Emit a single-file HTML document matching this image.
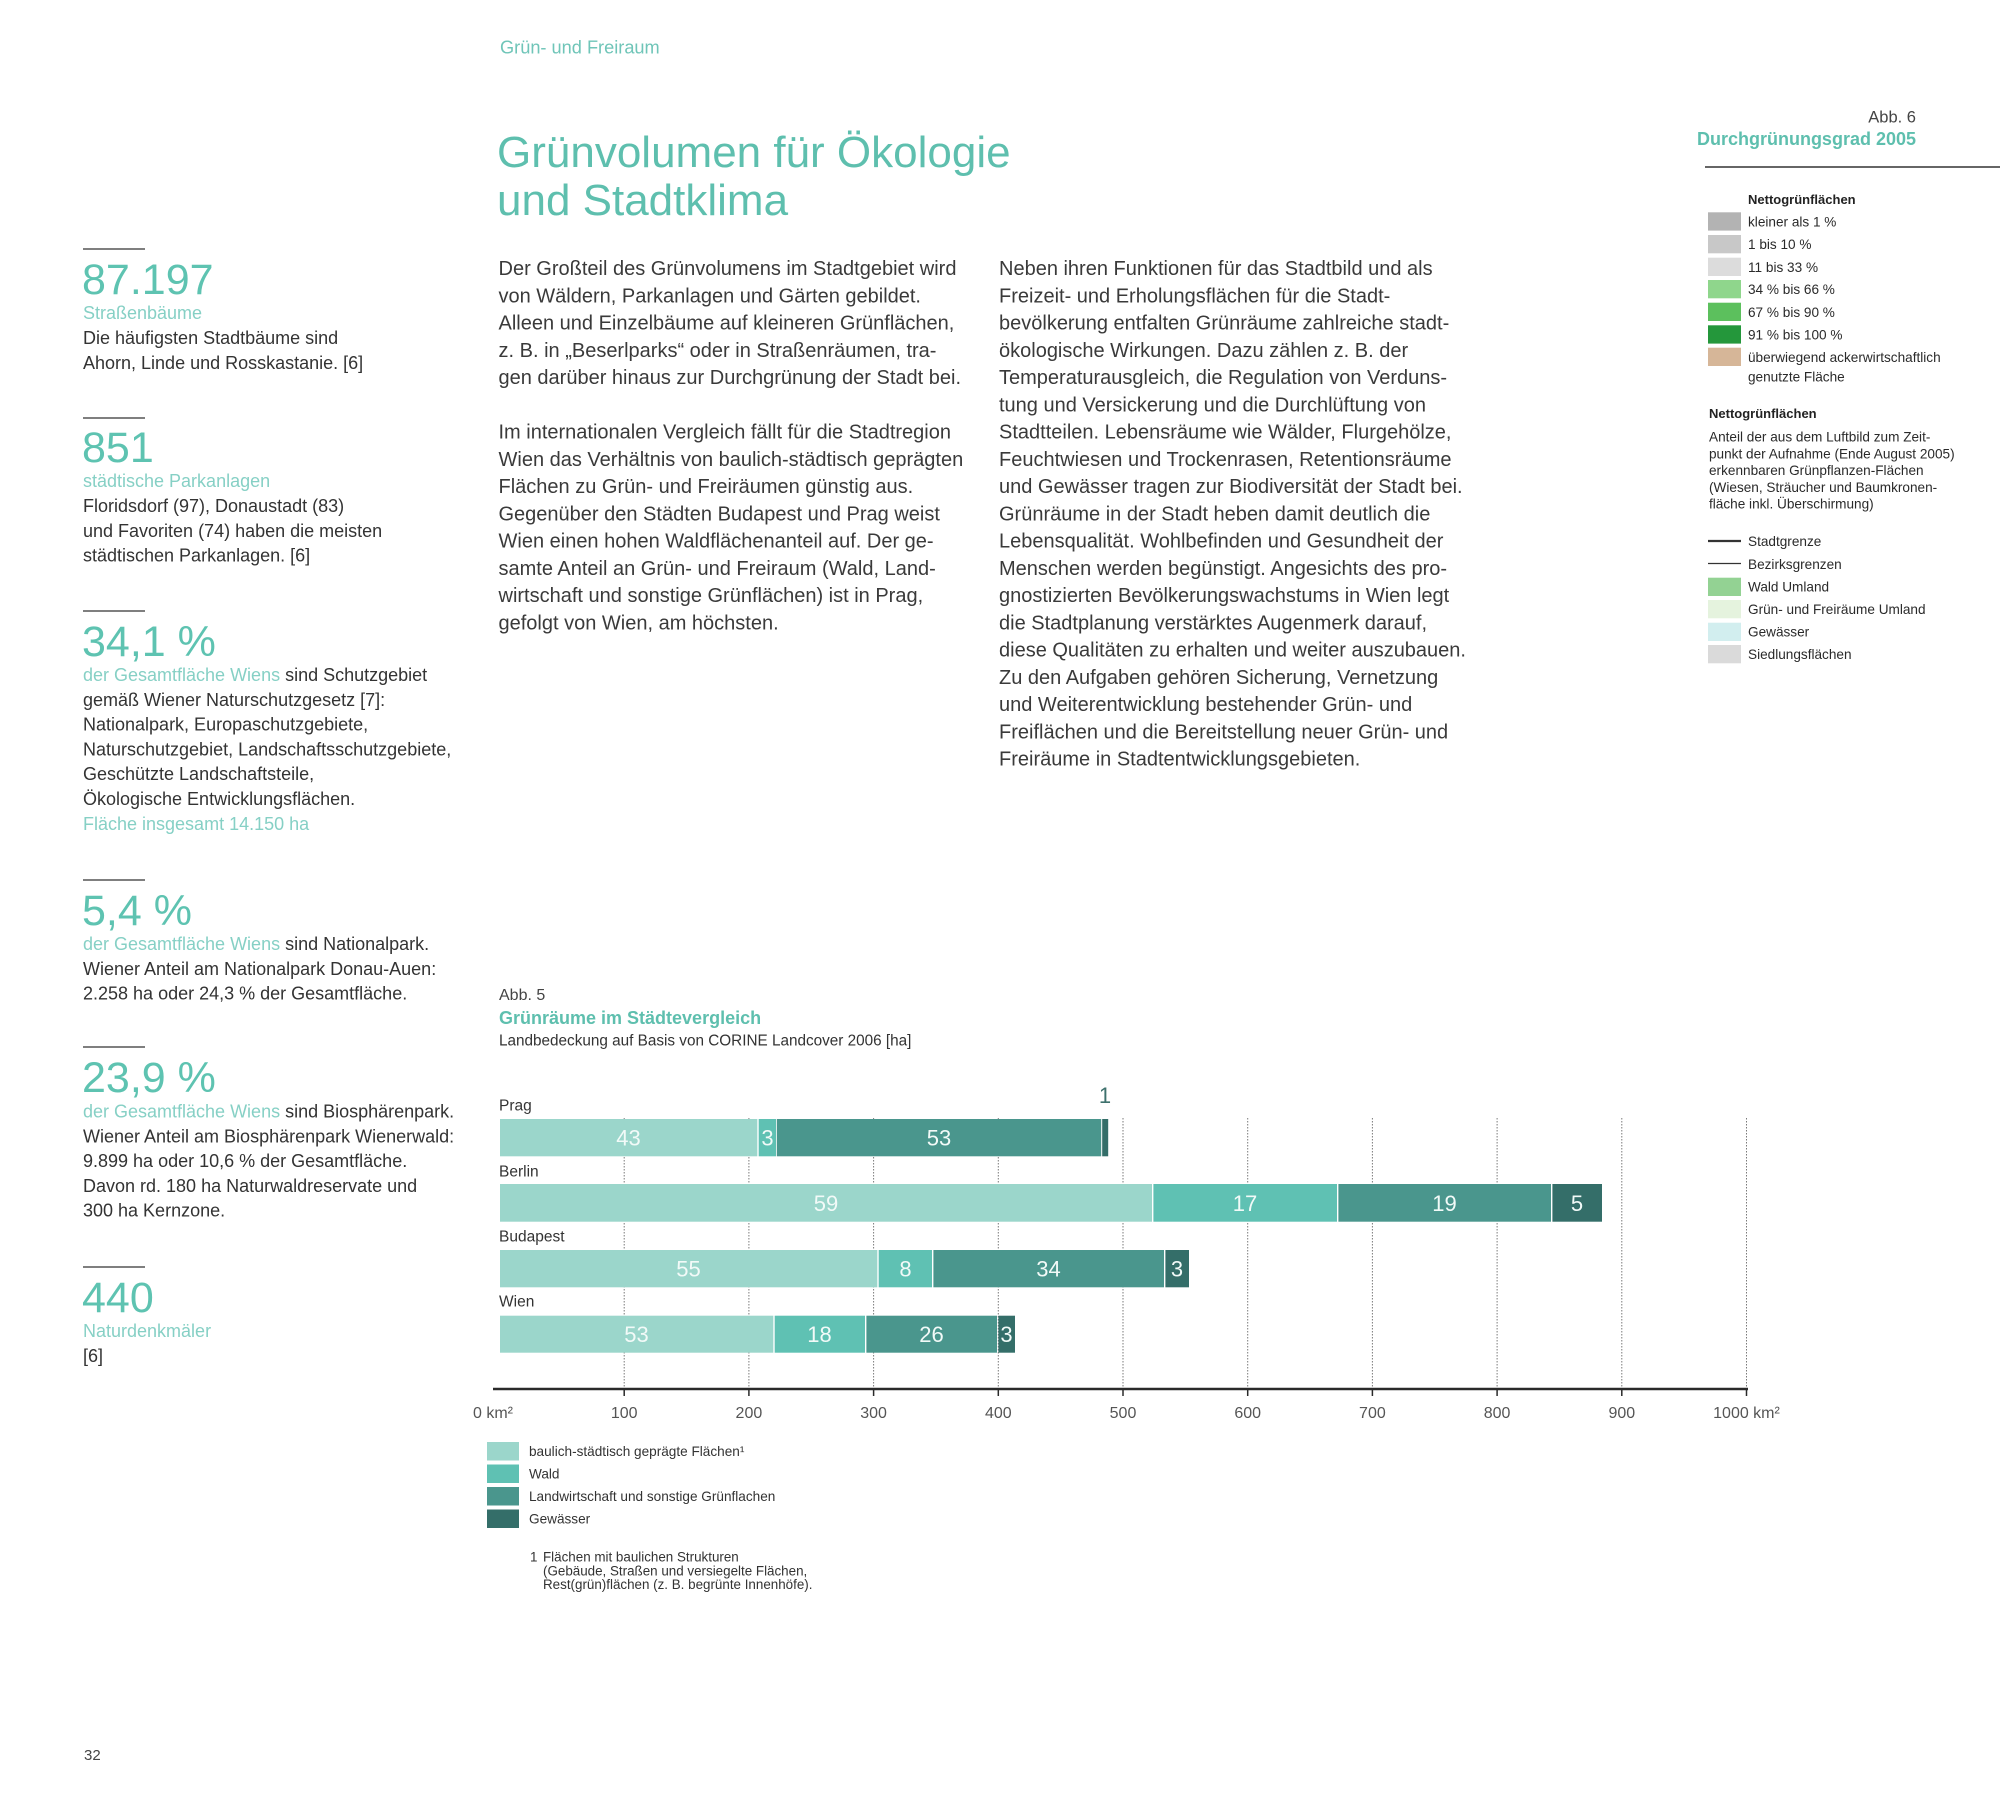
<!DOCTYPE html>
<html><head><meta charset="utf-8"><style>
html,body{margin:0;padding:0;background:#fff;}
svg{display:block;}
text{font-family:"Liberation Sans",sans-serif;}
</style></head><body>
<svg width="2000" height="1806" viewBox="0 0 2000 1806" xmlns="http://www.w3.org/2000/svg">
<rect width="2000" height="1806" fill="#fff"/>

<!-- header -->
<text x="500" y="53.3" font-size="18.2" fill="#6fc5b8">Grün- und Freiraum</text>
<text x="497" y="167" font-size="44" fill="#5ebfae">Grünvolumen für Ökologie</text>
<text x="497" y="215" font-size="44" fill="#5ebfae">und Stadtklima</text>

<text x="1916" y="122.3" font-size="16.5" fill="#444" text-anchor="end">Abb. 6</text>
<text x="1916" y="145" font-size="18" font-weight="bold" fill="#5ebfae" text-anchor="end">Durchgrünungsgrad 2005</text>
<line x1="1705" y1="167" x2="2000" y2="167" stroke="#333" stroke-width="1.5"/>

<!-- right legend -->
<g font-size="13.6" fill="#2a2a2a">
<text x="1748" y="204" font-size="13" font-weight="bold" fill="#222">Nettogrünflächen</text>
<rect x="1708" y="212.3" width="33" height="18.3" fill="#b3b3b3"/>
<text x="1748" y="226.5">kleiner als 1 %</text>
<rect x="1708" y="235" width="33" height="18.3" fill="#c8c8c8"/>
<text x="1748" y="249">1 bis 10 %</text>
<rect x="1708" y="257.7" width="33" height="18.3" fill="#dcdcdc"/>
<text x="1748" y="272">11 bis 33 %</text>
<rect x="1708" y="280" width="33" height="18.3" fill="#8fd68c"/>
<text x="1748" y="294">34 % bis 66 %</text>
<rect x="1708" y="302.7" width="33" height="18.3" fill="#5cc05d"/>
<text x="1748" y="317">67 % bis 90 %</text>
<rect x="1708" y="325.3" width="33" height="18.3" fill="#24973b"/>
<text x="1748" y="339.5">91 % bis 100 %</text>
<rect x="1708" y="347.7" width="33" height="18.3" fill="#d6b698"/>
<text x="1748" y="362">überwiegend ackerwirtschaftlich</text>
<text x="1748" y="381.5">genutzte Fläche</text>

<text x="1709" y="418" font-size="13" font-weight="bold" fill="#222">Nettogrünflächen</text>
<text x="1709" y="441.5">Anteil der aus dem Luftbild zum Zeit-</text>
<text x="1709" y="458.3">punkt der Aufnahme (Ende August 2005)</text>
<text x="1709" y="475.1">erkennbaren Grünpflanzen-Flächen</text>
<text x="1709" y="491.9">(Wiesen, Sträucher und Baumkronen-</text>
<text x="1709" y="508.7">fläche inkl. Überschirmung)</text>

<line x1="1708" y1="541" x2="1741" y2="541" stroke="#333" stroke-width="2.3"/>
<text x="1748" y="546">Stadtgrenze</text>
<line x1="1708" y1="563.5" x2="1741" y2="563.5" stroke="#333" stroke-width="1.2"/>
<text x="1748" y="569">Bezirksgrenzen</text>
<rect x="1708" y="577.7" width="33" height="18.3" fill="#93d293"/>
<text x="1748" y="591.5">Wald Umland</text>
<rect x="1708" y="600" width="33" height="18.3" fill="#e5f3de"/>
<text x="1748" y="614">Grün- und Freiräume Umland</text>
<rect x="1708" y="622.7" width="33" height="18.3" fill="#d2eeef"/>
<text x="1748" y="636.5">Gewässer</text>
<rect x="1708" y="645" width="33" height="18.3" fill="#dadada"/>
<text x="1748" y="659">Siedlungsflächen</text>
</g>

<!-- body column 1 -->
<g font-size="20" fill="#3a3a3a">
<text x="498.5" y="275">Der Großteil des Grünvolumens im Stadtgebiet wird</text>
<text x="498.5" y="302.25">von Wäldern, Parkanlagen und Gärten gebildet.</text>
<text x="498.5" y="329.5">Alleen und Einzelbäume auf kleineren Grünflächen,</text>
<text x="498.5" y="356.75">z. B. in „Beserlparks“ oder in Straßenräumen, tra-</text>
<text x="498.5" y="384">gen darüber hinaus zur Durchgrünung der Stadt bei.</text>
<text x="498.5" y="438.5">Im internationalen Vergleich fällt für die Stadtregion</text>
<text x="498.5" y="465.75">Wien das Verhältnis von baulich-städtisch geprägten</text>
<text x="498.5" y="493">Flächen zu Grün- und Freiräumen günstig aus.</text>
<text x="498.5" y="520.25">Gegenüber den Städten Budapest und Prag weist</text>
<text x="498.5" y="547.5">Wien einen hohen Waldflächenanteil auf. Der ge-</text>
<text x="498.5" y="574.75">samte Anteil an Grün- und Freiraum (Wald, Land-</text>
<text x="498.5" y="602">wirtschaft und sonstige Grünflächen) ist in Prag,</text>
<text x="498.5" y="629.25">gefolgt von Wien, am höchsten.</text>

<!-- body column 2 -->
<text x="999" y="275">Neben ihren Funktionen für das Stadtbild und als</text>
<text x="999" y="302.25">Freizeit- und Erholungsflächen für die Stadt-</text>
<text x="999" y="329.5">bevölkerung entfalten Grünräume zahlreiche stadt-</text>
<text x="999" y="356.75">ökologische Wirkungen. Dazu zählen z. B. der</text>
<text x="999" y="384">Temperaturausgleich, die Regulation von Verduns-</text>
<text x="999" y="411.25">tung und Versickerung und die Durchlüftung von</text>
<text x="999" y="438.5">Stadtteilen. Lebensräume wie Wälder, Flurgehölze,</text>
<text x="999" y="465.75">Feuchtwiesen und Trockenrasen, Retentionsräume</text>
<text x="999" y="493">und Gewässer tragen zur Biodiversität der Stadt bei.</text>
<text x="999" y="520.25">Grünräume in der Stadt heben damit deutlich die</text>
<text x="999" y="547.5">Lebensqualität. Wohlbefinden und Gesundheit der</text>
<text x="999" y="574.75">Menschen werden begünstigt. Angesichts des pro-</text>
<text x="999" y="602">gnostizierten Bevölkerungswachstums in Wien legt</text>
<text x="999" y="629.25">die Stadtplanung verstärktes Augenmerk darauf,</text>
<text x="999" y="656.5">diese Qualitäten zu erhalten und weiter auszubauen.</text>
<text x="999" y="683.75">Zu den Aufgaben gehören Sicherung, Vernetzung</text>
<text x="999" y="711">und Weiterentwicklung bestehender Grün- und</text>
<text x="999" y="738.25">Freiflächen und die Bereitstellung neuer Grün- und</text>
<text x="999" y="765.5">Freiräume in Stadtentwicklungsgebieten.</text>
</g>

<!-- left column -->
<g fill="#5ec3b1" font-size="43">
<text x="82" y="294">87.197</text>
<text x="82" y="462">851</text>
<text x="82" y="656">34,1 %</text>
<text x="82" y="925">5,4 %</text>
<text x="82" y="1092">23,9 %</text>
<text x="82" y="1312">440</text>
</g>
<g stroke="#555" stroke-width="1.5">
<line x1="83" y1="249" x2="145" y2="249"/>
<line x1="83" y1="418" x2="145" y2="418"/>
<line x1="83" y1="611" x2="145" y2="611"/>
<line x1="83" y1="880" x2="145" y2="880"/>
<line x1="83" y1="1047" x2="145" y2="1047"/>
<line x1="83" y1="1267" x2="145" y2="1267"/>
</g>
<g font-size="18" fill="#333">
<text x="83" y="319" fill="#86d0c5">Straßenbäume</text>
<text x="83" y="344">Die häufigsten Stadtbäume sind</text>
<text x="83" y="368.8">Ahorn, Linde und Rosskastanie. [6]</text>

<text x="83" y="487" fill="#86d0c5">städtische Parkanlagen</text>
<text x="83" y="512">Floridsdorf (97), Donaustadt (83)</text>
<text x="83" y="536.8">und Favoriten (74) haben die meisten</text>
<text x="83" y="561.6">städtischen Parkanlagen. [6]</text>

<text x="83" y="681"><tspan fill="#86d0c5">der Gesamtfläche Wiens</tspan> sind Schutzgebiet</text>
<text x="83" y="705.8">gemäß Wiener Naturschutzgesetz [7]:</text>
<text x="83" y="730.6">Nationalpark, Europaschutzgebiete,</text>
<text x="83" y="755.4">Naturschutzgebiet, Landschaftsschutzgebiete,</text>
<text x="83" y="780.2">Geschützte Landschaftsteile,</text>
<text x="83" y="805">Ökologische Entwicklungsflächen.</text>
<text x="83" y="829.8" fill="#86d0c5">Fläche insgesamt 14.150 ha</text>

<text x="83" y="950"><tspan fill="#86d0c5">der Gesamtfläche Wiens</tspan> sind Nationalpark.</text>
<text x="83" y="974.8">Wiener Anteil am Nationalpark Donau-Auen:</text>
<text x="83" y="999.6">2.258 ha oder 24,3 % der Gesamtfläche.</text>

<text x="83" y="1117.5"><tspan fill="#86d0c5">der Gesamtfläche Wiens</tspan> sind Biosphärenpark.</text>
<text x="83" y="1142.3">Wiener Anteil am Biosphärenpark Wienerwald:</text>
<text x="83" y="1167.1">9.899 ha oder 10,6 % der Gesamtfläche.</text>
<text x="83" y="1191.9">Davon rd. 180 ha Naturwaldreservate und</text>
<text x="83" y="1216.7">300 ha Kernzone.</text>

<text x="83" y="1337" fill="#86d0c5">Naturdenkmäler</text>
<text x="83" y="1361.8">[6]</text>
</g>

<text x="84" y="1760" font-size="15" fill="#444">32</text>

<!-- chart titles -->
<text x="499" y="1000" font-size="16" fill="#444">Abb. 5</text>
<text x="499" y="1024" font-size="18" font-weight="bold" fill="#5ebfae">Grünräume im Städtevergleich</text>
<text x="499" y="1045.5" font-size="15.3" fill="#333">Landbedeckung auf Basis von CORINE Landcover 2006 [ha]</text>

<!-- gridlines -->
<g stroke="#7a7a7a" stroke-width="1" stroke-dasharray="1.5 1.5">
<line x1="624.2" y1="1118" x2="624.2" y2="1389"/>
<line x1="748.9" y1="1118" x2="748.9" y2="1389"/>
<line x1="873.6" y1="1118" x2="873.6" y2="1389"/>
<line x1="998.3" y1="1118" x2="998.3" y2="1389"/>
<line x1="1123" y1="1118" x2="1123" y2="1389"/>
<line x1="1247.7" y1="1118" x2="1247.7" y2="1389"/>
<line x1="1372.4" y1="1118" x2="1372.4" y2="1389"/>
<line x1="1497.1" y1="1118" x2="1497.1" y2="1389"/>
<line x1="1621.8" y1="1118" x2="1621.8" y2="1389"/>
<line x1="1746.5" y1="1118" x2="1746.5" y2="1389"/>
</g>

<!-- city labels -->
<g font-size="15.5" fill="#333">
<text x="499" y="1110.5">Prag</text>
<text x="499" y="1176.5">Berlin</text>
<text x="499" y="1241.5">Budapest</text>
<text x="499" y="1306.5">Wien</text>
</g>

<!-- bars -->
<g>
<rect x="500" y="1119" width="257.3" height="37.3" fill="#9bd6cb"/>
<rect x="758.7" y="1119" width="17.3" height="37.3" fill="#5fc1b3"/>
<rect x="776.8" y="1119" width="324.4" height="37.3" fill="#4a968d"/>
<rect x="1102.2" y="1119" width="6" height="37.3" fill="#346e69"/>

<rect x="500" y="1184" width="652" height="37.7" fill="#9bd6cb"/>
<rect x="1153.4" y="1184" width="183.6" height="37.7" fill="#5fc1b3"/>
<rect x="1338.4" y="1184" width="212.6" height="37.7" fill="#4a968d"/>
<rect x="1552.4" y="1184" width="49.6" height="37.7" fill="#346e69"/>

<rect x="500" y="1250" width="377.3" height="37.3" fill="#9bd6cb"/>
<rect x="878.7" y="1250" width="53.3" height="37.3" fill="#5fc1b3"/>
<rect x="933.4" y="1250" width="230.6" height="37.3" fill="#4a968d"/>
<rect x="1165.4" y="1250" width="23.6" height="37.3" fill="#346e69"/>

<rect x="500" y="1315.7" width="273.3" height="37" fill="#9bd6cb"/>
<rect x="774.7" y="1315.7" width="90.3" height="37" fill="#5fc1b3"/>
<rect x="866.4" y="1315.7" width="130.6" height="37" fill="#4a968d"/>
<rect x="998.4" y="1315.7" width="16.6" height="37" fill="#346e69"/>
</g>

<!-- bar labels -->
<g font-size="22" fill="#f2faf8" text-anchor="middle">
<text x="628.5" y="1145.5">43</text>
<text x="767.5" y="1145.5">3</text>
<text x="939" y="1145.5">53</text>
<text x="826" y="1211">59</text>
<text x="1245" y="1211">17</text>
<text x="1444.5" y="1211">19</text>
<text x="1577" y="1211">5</text>
<text x="688.5" y="1276.5">55</text>
<text x="905.5" y="1276.5">8</text>
<text x="1048.5" y="1276.5">34</text>
<text x="1177" y="1276.5">3</text>
<text x="636.5" y="1342">53</text>
<text x="819.5" y="1342">18</text>
<text x="931.5" y="1342">26</text>
<text x="1006.5" y="1342">3</text>
</g>
<text x="1105" y="1103" font-size="22" fill="#3e716d" text-anchor="middle">1</text>

<!-- axis -->
<line x1="493" y1="1389" x2="1748" y2="1389" stroke="#2a2a2a" stroke-width="2.5"/>
<g stroke="#2a2a2a" stroke-width="1.5">
<line x1="624.2" y1="1389" x2="624.2" y2="1396"/>
<line x1="748.9" y1="1389" x2="748.9" y2="1396"/>
<line x1="873.6" y1="1389" x2="873.6" y2="1396"/>
<line x1="998.3" y1="1389" x2="998.3" y2="1396"/>
<line x1="1123" y1="1389" x2="1123" y2="1396"/>
<line x1="1247.7" y1="1389" x2="1247.7" y2="1396"/>
<line x1="1372.4" y1="1389" x2="1372.4" y2="1396"/>
<line x1="1497.1" y1="1389" x2="1497.1" y2="1396"/>
<line x1="1621.8" y1="1389" x2="1621.8" y2="1396"/>
<line x1="1746.5" y1="1389" x2="1746.5" y2="1396"/>
</g>
<g font-size="16" fill="#555" text-anchor="middle">
<text x="493" y="1418">0 km²</text>
<text x="624.2" y="1418">100</text>
<text x="748.9" y="1418">200</text>
<text x="873.6" y="1418">300</text>
<text x="998.3" y="1418">400</text>
<text x="1123" y="1418">500</text>
<text x="1247.7" y="1418">600</text>
<text x="1372.4" y="1418">700</text>
<text x="1497.1" y="1418">800</text>
<text x="1621.8" y="1418">900</text>
<text x="1746.5" y="1418">1000 km²</text>
</g>

<!-- chart legend -->
<rect x="487" y="1442" width="32" height="18.5" fill="#9bd6cb"/>
<rect x="487" y="1464.5" width="32" height="18.5" fill="#5fc1b3"/>
<rect x="487" y="1487" width="32" height="18.5" fill="#4a968d"/>
<rect x="487" y="1509.5" width="32" height="18.5" fill="#346e69"/>
<g font-size="13.6" fill="#333">
<text x="529" y="1456">baulich-städtisch geprägte Flächen¹</text>
<text x="529" y="1478.5">Wald</text>
<text x="529" y="1501">Landwirtschaft und sonstige Grünflachen</text>
<text x="529" y="1523.5">Gewässer</text>
</g>
<g font-size="13.4" fill="#333">
<text x="530" y="1561.5">1</text>
<text x="543" y="1561.5">Flächen mit baulichen Strukturen</text>
<text x="543" y="1575.3">(Gebäude, Straßen und versiegelte Flächen,</text>
<text x="543" y="1589">Rest(grün)flächen (z. B. begrünte Innenhöfe).</text>
</g>
</svg>
</body></html>
